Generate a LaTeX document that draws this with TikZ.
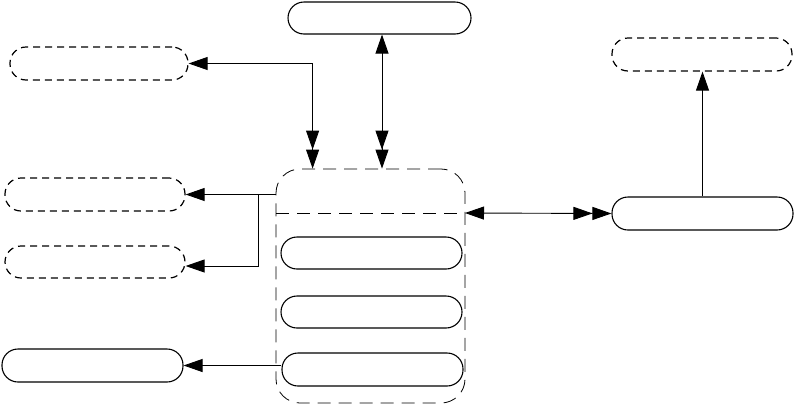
\documentclass[tikz,border=0pt]{standalone}
\usetikzlibrary{arrows.meta,positioning}
\tikzset{
  pill/.style={draw, line width=1.1pt, rounded corners=16pt, minimum height=32pt, minimum width=181pt, inner sep=0pt},
  dpill/.style={draw, line width=1.2pt, rounded corners=16pt, minimum height=33pt, minimum width=180pt, inner sep=0pt, dash pattern=on 7pt off 5pt},
  contbox/.style={draw, line width=0.8pt, rounded corners=24pt, inner sep=0pt, dash pattern=on 13pt off 8pt},
  conn/.style={line width=0.9pt},
  onetwo/.style={{Triangle[length=19pt,width=13pt]}-{Triangle[length=19pt,width=13pt]Triangle[length=19pt,width=13pt]}},
  toone/.style={-{Triangle[length=19pt,width=13pt]}},
}
\begin{document}
\begin{tikzpicture}[x=1pt,y=-1pt]
\useasboundingbox (0,0) rectangle (795,405);
% nodes
\node[pill, minimum width=183pt] (top) at (379.5,18) {};
\node[dpill, minimum width=178pt] (tl) at (99,63.5) {};
\node[dpill] (l2) at (95,194.5) {};
\node[dpill, minimum height=32pt] (l3) at (95,262) {};
\node[pill, minimum height=33pt] (bl) at (92.5,365.5) {};
\node[contbox, minimum width=189pt, minimum height=234pt] (cont) at (370.5,286) {};
\node[pill] (a) at (371.5,253) {};
\node[pill] (b) at (371.5,312) {};
\node[pill, minimum height=33pt] (c) at (372.5,369.5) {};
\node[dpill] (tr) at (702,54.5) {};
\node[pill, minimum height=33pt] (r) at (702.5,213.5) {};
% divider
\coordinate (divl) at (276,213);
\coordinate (divr) at (465,213);
\draw[line width=0.8pt, dash pattern=on 13pt off 8pt] (divl) -- (divr);
% connectors
\draw[conn, onetwo] (tl.east) -| ([xshift=37pt]cont.north west);
\draw[conn, onetwo] ([xshift=2.5pt]top.south) -- ([xshift=2.5pt]top.south |- cont.north);
\coordinate (br) at (258,194.5);
\draw[conn, toone] (cont.west |- l2.east) -- (l2.east);
\draw[conn, toone] (br) |- ([yshift=-4pt]l3.east);
\draw[conn, toone] (c.west |- bl.east) -- (bl.east);
\draw[conn, onetwo] (divr) -- (r.west);
\draw[conn, toone] (r.north) -- (r.north |- tr.south);
\end{tikzpicture}
\end{document}
